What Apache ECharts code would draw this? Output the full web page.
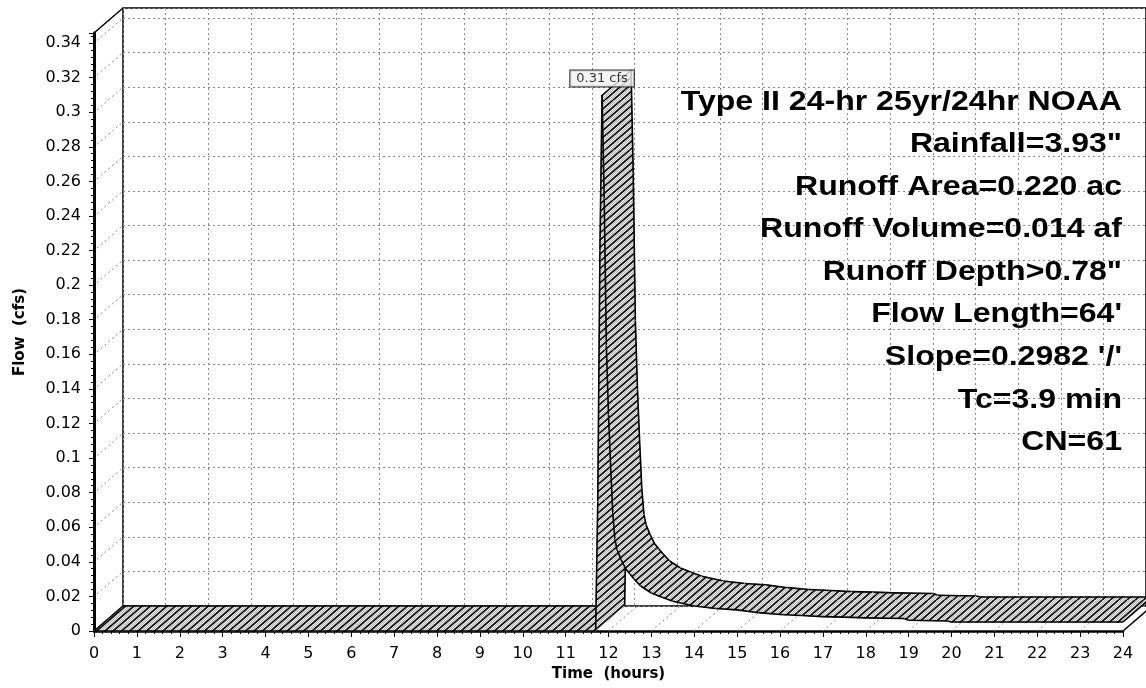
<!DOCTYPE html>
<html><head><meta charset="utf-8">
<script src="https://cdn.jsdelivr.net/npm/echarts@6/dist/echarts.min.js"></script>
<style>html,body{margin:0;padding:0;background:#fff}#c{width:1146px;height:688px}</style>
</head><body><div id="c"></div>
<script>
// ---- data ----
const hours = [0, 11.70, 11.75, 11.80, 11.85, 11.90, 11.95, 12.00, 12.05, 12.10,
  12.15, 12.20, 12.30, 12.40, 12.50, 12.60, 12.75, 13.00, 13.25, 13.50,
  14.0, 14.5, 15.0, 15.5, 16.0, 16.5, 17.0, 17.5, 18.0,
  18.9, 19.0, 19.9, 20.0, 24.0];
const flows = [0, 0, 0.075, 0.22, 0.31, 0.25, 0.165, 0.125, 0.095, 0.068,
  0.053, 0.047, 0.041, 0.036, 0.033, 0.030, 0.026, 0.022, 0.0195, 0.0172,
  0.0145, 0.013, 0.0122, 0.0106, 0.0095, 0.009, 0.0083, 0.008, 0.0076,
  0.0072, 0.0062, 0.0058, 0.0052, 0.0052];
const hourTicks = [0,1,2,3,4,5,6,7,8,9,10,11,12,13,14,15,16,17,18,19,20,21,22,23,24];
const flowTicks = [0,0.02,0.04,0.06,0.08,0.1,0.12,0.14,0.16,0.18,0.2,0.22,0.24,0.26,0.28,0.3,0.32,0.34];
const notes = ['Type II 24-hr 25yr/24hr NOAA', 'Rainfall=3.93"', 'Runoff Area=0.220 ac',
  'Runoff Volume=0.014 af', 'Runoff Depth>0.78"', "Flow Length=64'", "Slope=0.2982 '/'",
  'Tc=3.9 min', 'CN=61'];
const peakLabel = '0.31 cfs';
const xName = 'Time  (hours)';
const yName = 'Flow  (cfs)';

// ---- layout / style ----
const X_MAX = 24, Y_MAX = 0.3458;
const DX = 29, DY = -25;
const G = {left: 94, top: 33, width: 1029, height: 598};

function makeHatch() {
  const W = 58, H = 50;
  const c = document.createElement('canvas'); c.width = W; c.height = H;
  const g = c.getContext('2d');
  const img = g.createImageData(W, H);
  for (let y = 0; y < H; y++) for (let x = 0; x < W; x++) {
    const v = ((x + y) % 2 === 0) ? 175 : 240;
    const k = (y * W + x) * 4;
    img.data[k] = img.data[k+1] = img.data[k+2] = v; img.data[k+3] = 255;
  }
  g.putImageData(img, 0, 0);
  g.strokeStyle = '#000'; g.lineWidth = 1.5;
  const n = 7, s = W / n;
  for (let k = -n; k < 2 * n; k++) {
    g.beginPath(); g.moveTo(k * s, H); g.lineTo(k * s + W, 0); g.stroke();
  }
  return c;
}
const hatch = {image: makeHatch(), repeat: 'repeat'};

const segData = hours.slice(0, -1).map((h, i) => [h, flows[i], hours[i + 1], flows[i + 1]]);
let pk = 0; flows.forEach((f, i) => { if (f > flows[pk]) pk = i; });

const chart = echarts.init(document.getElementById('c'), null, {renderer: 'canvas'});
const labelFont = 'DejaVu Sans';
const dotted = {color: '#8a8a8a', width: 1, type: [2, 3]};

chart.setOption({
  animation: false,
  backgroundColor: '#fff',
  grid: [
    Object.assign({}, G, {show: false}),
    {left: G.left + DX, top: G.top + DY, width: G.width, height: G.height, show: true,
     borderColor: '#000', borderWidth: 1.5, backgroundColor: 'transparent'}
  ],
  xAxis: [
    {type: 'value', gridIndex: 0, min: 0, max: X_MAX, interval: 1,
     axisLine: {lineStyle: {color: '#000', width: 2.5}},
     axisTick: {length: 6, lineStyle: {color: '#000', width: 1}},
     minorTick: {show: true, splitNumber: 5, length: 3, lineStyle: {color: '#000'}},
     axisLabel: {color: '#000', fontSize: 16, fontFamily: labelFont, margin: 15},
     splitLine: {show: false},
     name: xName, nameLocation: 'middle', nameGap: 36,
     nameTextStyle: {color: '#000', fontWeight: 'bold', fontSize: 15, fontFamily: labelFont}},
    {type: 'value', gridIndex: 1, min: 0, max: X_MAX, interval: 1,
     axisLine: {show: false}, axisTick: {show: false}, axisLabel: {show: false},
     splitLine: {show: true, lineStyle: dotted}}
  ],
  yAxis: [
    {type: 'value', gridIndex: 0, min: 0, max: Y_MAX, interval: 0.02,
     axisLine: {show: true, lineStyle: {color: '#000', width: 3}},
     axisTick: {show: true, length: 5, lineStyle: {color: '#000'}},
     minorTick: {show: true, splitNumber: 5, length: 3, lineStyle: {color: '#000'}},
     axisLabel: {color: '#000', fontSize: 16, fontFamily: labelFont, margin: 13, showMaxLabel: false,
       formatter: v => String(parseFloat(v.toFixed(2)))},
     splitLine: {show: false},
     name: yName, nameLocation: 'middle', nameGap: 66,
     nameTextStyle: {color: '#000', fontWeight: 'bold', fontSize: 15, fontFamily: labelFont}},
    {type: 'value', gridIndex: 1, min: 0, max: Y_MAX, interval: 0.02,
     axisLine: {show: false}, axisTick: {show: false}, axisLabel: {show: false},
     splitLine: {show: true, lineStyle: dotted}}
  ],
  series: [
    { // side wall depth lines
      type: 'custom', xAxisIndex: 0, yAxisIndex: 0, z: 2, silent: true,
      data: flowTicks.map(v => [0, v]),
      renderItem(p, api) {
        const a = api.coord([api.value(0), api.value(1)]);
        return {type: 'line', shape: {x1: a[0] + 3, y1: a[1] - 2.5, x2: a[0] + DX, y2: a[1] + DY},
          style: {stroke: '#8a8a8a', lineWidth: 1, lineDash: [2, 3]}};
      }
    },
    { // floor depth lines
      type: 'custom', xAxisIndex: 0, yAxisIndex: 0, z: 2, silent: true,
      data: hourTicks.map(h => [h, 0]),
      renderItem(p, api) {
        const a = api.coord([api.value(0), api.value(1)]);
        return {type: 'line', shape: {x1: a[0], y1: a[1], x2: a[0] + DX, y2: a[1] + DY},
          style: {stroke: '#8a8a8a', lineWidth: 1, lineDash: [2, 3]}};
      }
    },
    { // frame corners
      type: 'custom', xAxisIndex: 0, yAxisIndex: 0, z: 3, silent: true,
      data: [[0, Y_MAX], [X_MAX, 0]],
      renderItem(p, api) {
        const a = api.coord([api.value(0), api.value(1)]);
        return {type: 'line', shape: {x1: a[0], y1: a[1], x2: a[0] + DX, y2: a[1] + DY},
          style: {stroke: '#000', lineWidth: 1.5}};
      }
    },
    { // hydrograph ribbon
      type: 'custom', xAxisIndex: 0, yAxisIndex: 0, z: 5, silent: true,
      data: segData,
      renderItem(p, api) {
        const a = api.coord([api.value(0), api.value(1)]);
        const b = api.coord([api.value(2), api.value(3)]);
        const a2 = [a[0] + DX, a[1] + DY], b2 = [b[0] + DX, b[1] + DY];
        const ch = [
          {type: 'polygon', shape: {points: [a, b, b2, a2]}, style: {fill: hatch, stroke: hatch, lineWidth: 1}},
          {type: 'line', shape: {x1: a[0], y1: a[1], x2: b[0], y2: b[1]}, style: {stroke: '#000', lineWidth: 1.6}},
          {type: 'line', shape: {x1: a2[0], y1: a2[1], x2: b2[0], y2: b2[1]}, style: {stroke: '#000', lineWidth: 1.6}}
        ];
        if (p.dataIndex === 0) ch.push({type: 'line', shape: {x1: a[0], y1: a[1], x2: a2[0], y2: a2[1]}, style: {stroke: '#000', lineWidth: 1.6}});
        if (p.dataIndex === segData.length - 1) ch.push({type: 'line', shape: {x1: b[0], y1: b[1], x2: b2[0], y2: b2[1]}, style: {stroke: '#000', lineWidth: 1.6}});
        return {type: 'group', children: ch};
      }
    },
    { // peak label
      type: 'scatter', xAxisIndex: 0, yAxisIndex: 0, z: 10, silent: true,
      symbolSize: 1, itemStyle: {color: 'rgba(0,0,0,0)'},
      data: [[hours[pk], flows[pk]]],
      label: {show: true, position: 'top', distance: 8, formatter: peakLabel,
        fontSize: 13, fontFamily: labelFont, color: '#000',
        backgroundColor: '#f2f2f2', borderColor: '#000', borderWidth: 1, padding: [2, 6, 1, 6]}
    }
  ],
  graphic: notes.map((t, i) => ({
    type: 'text', x: 1122, y: 102 + i * 42.55, scaleX: 1.145, z: 20, silent: true,
    style: {text: t, align: 'right', verticalAlign: 'middle', fill: '#000',
      font: 'bold 28px "Liberation Sans", Arial, sans-serif'}
  }))
});
</script></body></html>
